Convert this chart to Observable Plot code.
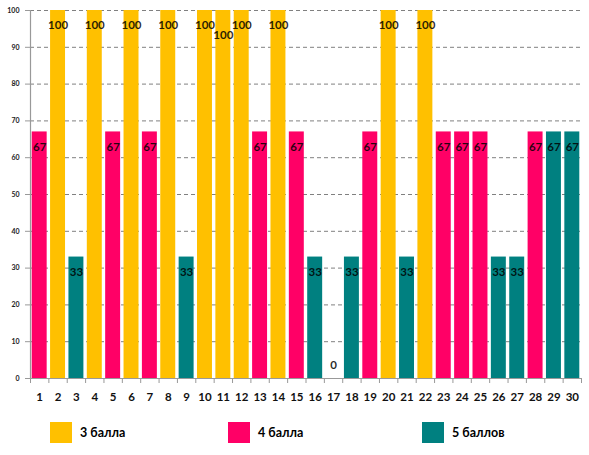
<!DOCTYPE html>
<html>
<head>
<meta charset="utf-8">
<script src="https://cdn.jsdelivr.net/npm/d3@7"></script>
<script src="https://cdn.jsdelivr.net/npm/@observablehq/plot@0.6"></script>
<style>
  body { margin: 0; background: #fff; font-family: Lato, "Open Sans", sans-serif; }
  #legend { position: relative; height: 45px; font-weight: bold; font-size: 12.5px; }
  .item { position: absolute; top: 12px; display: flex; align-items: center; }
  .sw { width: 22px; height: 21px; margin-right: 8px; }
</style>
</head>
<body>
<div id="plot-region"></div>
<div id="legend"></div>
<script>
const questions = d3.range(1, 31);
const scores = [67, 100, 33, 100, 67, 100, 67, 100, 33, 100,
                100, 100, 67, 100, 67, 33, 0, 33, 67, 100,
                33, 100, 67, 67, 67, 33, 33, 67, 67, 67];
const grades = ["4 балла", "3 балла", "5 баллов", "3 балла", "4 балла", "3 балла", "4 балла", "3 балла", "5 баллов", "3 балла",
                "3 балла", "3 балла", "4 балла", "3 балла", "4 балла", "5 баллов", "3 балла", "5 баллов", "4 балла", "3 балла",
                "5 баллов", "3 балла", "4 балла", "4 балла", "4 балла", "5 баллов", "5 баллов", "4 балла", "5 баллов", "5 баллов"];
const gradeNames = ["3 балла", "4 балла", "5 баллов"];
const gradeColors = ["#FFC000", "#FF0066", "#008080"];
const yTicks = d3.range(0, 101, 10);

const rows = questions.map((q, i) => ({ q, score: scores[i], grade: grades[i] }));
const boundaries = d3.range(0.5, questions.length + 1, 1);

// a wide (3-digit) label squeezed between two equal neighbours is pushed down, as in the source
const crowded = (d, i) => String(d.score).length > 2 && i > 0 && i < rows.length - 1
  && rows[i - 1].score === d.score && rows[i + 1].score === d.score;
const normalLabels = rows.filter((d, i) => d.score > 0 && !crowded(d, i));
const crowdedLabels = rows.filter((d, i) => d.score > 0 && crowded(d, i));
const zeroLabels = rows.filter(d => d.score === 0);

const labelStyle = { x: "q", y: "score", text: d => String(d.score), fontSize: 11.5, fontWeight: "bold", fill: "#000", fillOpacity: 0.85 };

const chart = Plot.plot({
  width: 589,
  height: 410,
  marginLeft: 30,
  marginRight: 8,
  marginTop: 10,
  marginBottom: 32,
  style: { fontFamily: "Lato, 'Open Sans', sans-serif", fontWeight: "bold", background: "#fff" },
  x: { type: "linear", domain: [0.5, questions.length + 0.5], label: null },
  y: { type: "linear", domain: [0, 100], label: null },
  color: { domain: gradeNames, range: gradeColors },
  marks: [
    Plot.ruleY(yTicks.filter(d => d > 0), { stroke: "#808080", strokeDasharray: "4,3", strokeWidth: 1 }),
    Plot.rectY(rows, { x1: d => d.q - 0.5, x2: d => d.q + 0.5, y: "score", fill: "grade", insetLeft: 1.7, insetRight: 1.7 }),
    Plot.ruleX([0.5], { stroke: "#999", strokeWidth: 1.2 }),
    Plot.ruleY([0], { stroke: "#999", strokeWidth: 1.2 }),
    Plot.axisY({ ticks: yTicks, tickSize: 5, tickPadding: 6, fontSize: 7, stroke: "#999", color: "#222", tickFormat: d => String(d), label: null }),
    Plot.axisX({ ticks: boundaries, tickSize: 5, tickFormat: () => "", stroke: "#999", label: null }),
    Plot.axisX({ ticks: questions, tickSize: 0, tickPadding: 14, fontSize: 11.5, tickFormat: d => String(d), color: "#111", label: null }),
    Plot.text(normalLabels, { ...labelStyle, dy: 15 }),
    Plot.text(crowdedLabels, { ...labelStyle, dy: 25 }),
    Plot.text(zeroLabels, { ...labelStyle, dy: -13 })
  ]
});

document.getElementById("plot-region").append(chart);

const legend = document.getElementById("legend");
const lefts = [50, 228, 422];
gradeNames.forEach((name, i) => {
  const item = document.createElement("div");
  item.className = "item";
  item.style.left = lefts[i] + "px";
  item.innerHTML = `<div class="sw" style="background:${gradeColors[i]}"></div><span>${name}</span>`;
  legend.append(item);
});
</script>
</body>
</html>
